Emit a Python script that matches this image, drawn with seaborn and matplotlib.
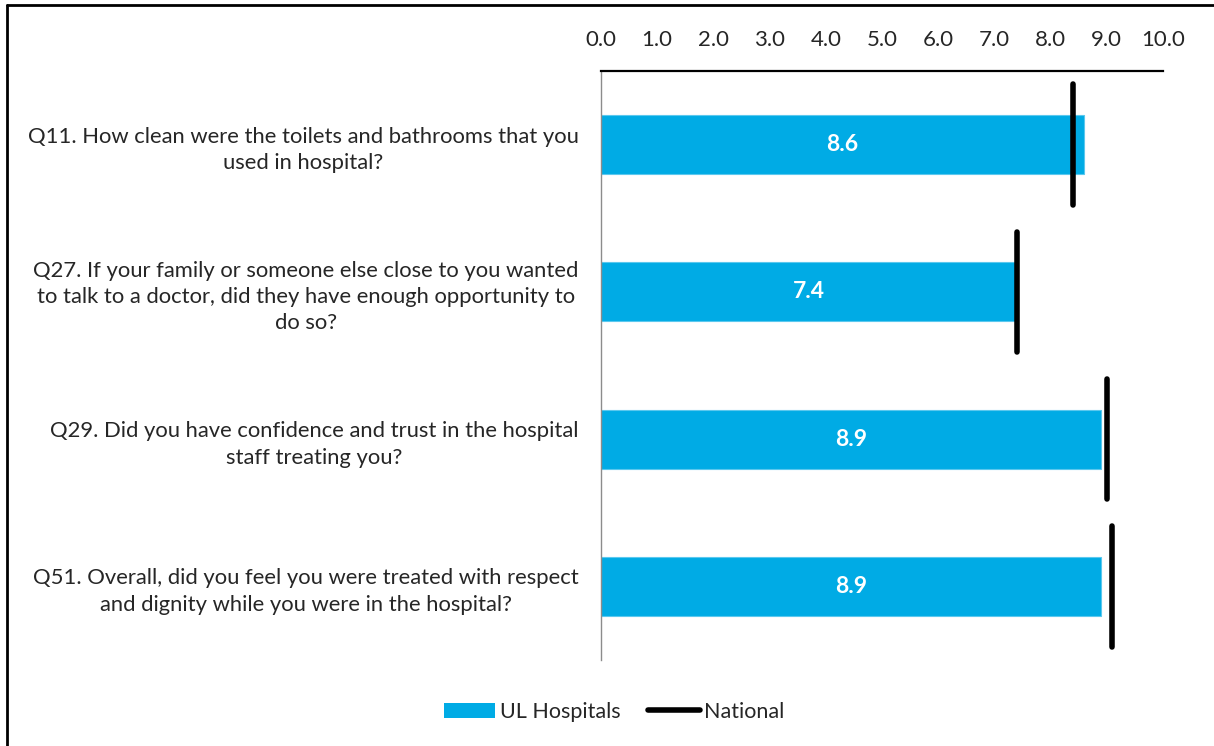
import matplotlib
matplotlib.use("Agg")
import matplotlib.pyplot as plt
from matplotlib.patches import Patch
from matplotlib.lines import Line2D
import seaborn as sns
import pandas as pd

questions = [
    "Q11. How clean were the toilets and bathrooms that you\nused in hospital?",
    "Q27. If your family or someone else close to you wanted\nto talk to a doctor, did they have enough opportunity to\ndo so?",
    "Q29. Did you have confidence and trust in the hospital\nstaff treating you?",
    "Q51. Overall, did you feel you were treated with respect\nand dignity while you were in the hospital?",
]
ul_hospitals = [8.6, 7.4, 8.9, 8.9]
national = [8.4, 7.4, 9.0, 9.1]
x_ticks = [0.0, 1.0, 2.0, 3.0, 4.0, 5.0, 6.0, 7.0, 8.0, 9.0, 10.0]

BLUE = "#00ABE5"

sns.set_theme(style="white")
plt.rcParams["font.family"] = ["Lato", "DejaVu Sans"]

df = pd.DataFrame({"question": questions, "score": ul_hospitals})

fig = plt.figure(figsize=(12.14, 7.46), dpi=100)
ax = fig.add_axes([601 / 1214, 1 - 660 / 746, 562 / 1214, 589 / 746])

sns.barplot(data=df, x="score", y="question", orient="h", color=BLUE,
            width=0.4, saturation=1, ax=ax, edgecolor="#5BC8EE", linewidth=0.8)

# national benchmark markers
for i, v in enumerate(national):
    ax.plot([v, v], [i - 0.41, i + 0.41], color="black", lw=4,
            solid_capstyle="round", zorder=5)

# value labels inside bars
for i, v in enumerate(ul_hospitals):
    ax.text(v / 2, i, f"{v:.1f}", ha="center", va="center", color="white",
            fontsize=16.5, fontweight="bold")

ax.set_xlim(0, 10)
ax.set_ylim(len(questions) - 0.5, -0.5)
ax.set_xticks(x_ticks)
ax.set_xticklabels([f"{t:.1f}" for t in x_ticks], fontsize=16)
ax.xaxis.tick_top()
ax.tick_params(axis="x", length=0, pad=15)
ax.tick_params(axis="y", length=0, pad=16)
for lbl in ax.get_yticklabels():
    lbl.set_fontsize(15.8)
    lbl.set_multialignment("center")
    lbl.set_linespacing(1.4)
ax.set_xlabel("")
ax.set_ylabel("")

for side in ["right", "bottom"]:
    ax.spines[side].set_visible(False)
ax.spines["top"].set_color("black")
ax.spines["top"].set_linewidth(1.6)
ax.spines["left"].set_color("#8C8C8C")
ax.spines["left"].set_linewidth(1.0)

handles = [
    Patch(facecolor=BLUE, edgecolor="none", label="UL Hospitals"),
    Line2D([0], [0], color="black", lw=4, solid_capstyle="round", label="National"),
]
fig.legend(handles=handles, loc="center", bbox_to_anchor=(614 / 1214, 1 - 712 / 746),
           ncol=2, frameon=False, fontsize=15.5, handlelength=2.4,
           handleheight=0.7, handletextpad=0.2, columnspacing=1.3)

# outer frame (left and top edges)
fig.add_artist(Line2D([7 / 1214, 7 / 1214], [0, 1 - 5 / 746], color="black", lw=2,
                      transform=fig.transFigure))
fig.add_artist(Line2D([7 / 1214, 1], [1 - 5 / 746, 1 - 5 / 746], color="black", lw=2,
                      transform=fig.transFigure))

fig.savefig("out.png", dpi=100)
